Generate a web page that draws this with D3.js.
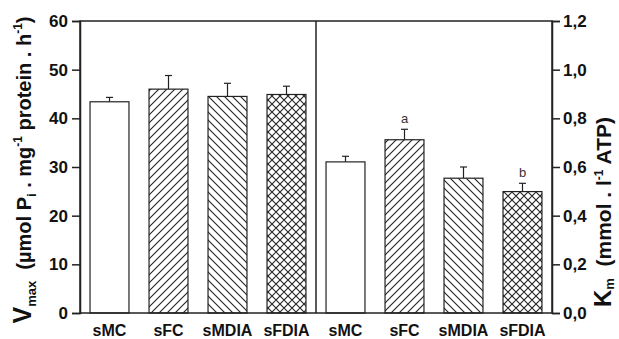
<!DOCTYPE html>
<html><head><meta charset="utf-8">
<script src="https://cdn.jsdelivr.net/npm/d3@7"></script>
<style>body{margin:0;background:#fff}svg{display:block}text{font-family:"Liberation Sans",Arial,sans-serif;white-space:pre}</style>
</head><body><svg id="c" width="619" height="339"></svg>
<script>
const categories = ["sMC","sFC","sMDIA","sFDIA"];
const patterns = ["none","fwd","back","cross"];
const vmaxValues = [43.4, 46.0, 44.5, 44.9];
const vmaxErrors = [44.3, 48.8, 47.2, 46.6];
const kmValues = [0.621, 0.712, 0.554, 0.499];
const kmErrors = [0.644, 0.755, 0.600, 0.533];
const kmLetters = ["", "a", "", "b"];
const leftTicks = [0,10,20,30,40,50,60];
const rightTicks = [0,0.2,0.4,0.6,0.8,1.0,1.2];

const svg = d3.select("#c");
const L = 80, R = 552, T = 21, B = 313, MID = 316;
const ink = "#222";

const defs = svg.append("defs");
function pat(id, draw, size){
  const p = defs.append("pattern").attr("id", id).attr("patternUnits","userSpaceOnUse")
    .attr("width", size).attr("height", size);
  p.append("rect").attr("width",size).attr("height",size).attr("fill","#fff");
  draw(p, size);
}
const fwdD = s => `M0,${s} L${s},0 M${-s/2},${s/2} L${s/2},${-s/2} M${s/2},${s*1.5} L${s*1.5},${s/2}`;
const backD = s => `M0,0 L${s},${s} M${-s/2},${s/2} L${s/2},${s*1.5} M${s/2},${-s/2} L${s*1.5},${s/2}`;
pat("fwd", (p,s)=>{ p.append("path").attr("d",fwdD(s)).attr("stroke",ink).attr("stroke-width",1.1); }, 8);
pat("back", (p,s)=>{ p.append("path").attr("d",backD(s)).attr("stroke",ink).attr("stroke-width",1.1); }, 8);
pat("cross", (p,s)=>{ p.append("path").attr("d",fwdD(s)+" "+backD(s)).attr("stroke",ink).attr("stroke-width",1.1); }, 8);

const xL = d3.scaleBand().domain(categories).range([L, MID]).paddingInner(0.34).paddingOuter(0.17);
const xR = d3.scaleBand().domain(categories).range([MID, R]).paddingInner(0.34).paddingOuter(0.17);
const yL = d3.scaleLinear().domain([0,60]).range([B,T]);
const yR = d3.scaleLinear().domain([0,1.2]).range([B,T]);

function drawGroup(x, y, vals, errs){
  const g = svg.append("g");
  categories.forEach((c,i)=>{
    const bx = x(c), bw = x.bandwidth(), cx = bx + bw/2;
    g.append("line").attr("x1",cx).attr("x2",cx).attr("y1",y(vals[i])).attr("y2",y(errs[i]))
      .attr("stroke",ink).attr("stroke-width",1.2);
    g.append("line").attr("x1",cx-3.5).attr("x2",cx+3.5).attr("y1",y(errs[i])).attr("y2",y(errs[i]))
      .attr("stroke",ink).attr("stroke-width",1.2);
    g.append("rect").attr("x",bx).attr("y",y(vals[i])).attr("width",bw).attr("height",B - y(vals[i]))
      .attr("fill", patterns[i]==="none" ? "#fff" : `url(#${patterns[i]})`)
      .attr("stroke",ink).attr("stroke-width",1.2);
  });
}
drawGroup(xL, yL, vmaxValues, vmaxErrors);
drawGroup(xR, yR, kmValues, kmErrors);

categories.forEach((c,i)=>{
  if(kmLetters[i]) svg.append("text").attr("x", xR(c)+xR.bandwidth()/2).attr("y", yR(kmErrors[i]) - 6)
    .attr("text-anchor","middle").attr("font-size",13).attr("fill","#333").text(kmLetters[i]);
});

// frame
svg.append("rect").attr("x",L).attr("y",T).attr("width",R-L).attr("height",B-T)
  .attr("fill","none").attr("stroke",ink).attr("stroke-width",1.5);
svg.append("line").attr("x1",MID).attr("x2",MID).attr("y1",T).attr("y2",B).attr("stroke",ink).attr("stroke-width",1.5);

// axes
const axL = svg.append("g").attr("transform",`translate(${L},0)`)
  .call(d3.axisLeft(yL).tickValues(leftTicks).tickSize(8).tickPadding(4).tickFormat(d3.format("d")));
const axR = svg.append("g").attr("transform",`translate(${R},0)`)
  .call(d3.axisRight(yR).tickValues(rightTicks).tickSize(8).tickPadding(3).tickFormat(d=>d.toFixed(1).replace(".",",")));
[axL, axR].forEach(a=>{
  a.select(".domain").attr("stroke",ink).attr("stroke-width",1.5);
  a.selectAll(".tick line").attr("stroke",ink).attr("stroke-width",1.5);
  a.selectAll(".tick text").attr("font-size",17).attr("font-weight","bold").attr("fill","#111")
    .style("font-family","'Liberation Sans',Arial,sans-serif");
});

// category labels
[xL, xR].forEach(x=>{
  categories.forEach(c=>{
    svg.append("text").attr("x", x(c)+x.bandwidth()/2).attr("y", 336).attr("text-anchor","middle")
      .attr("font-size",16).attr("font-weight","bold").attr("fill","#111").text(c);
  });
});

// left axis title
const lt = svg.append("text").attr("transform","translate(31,170) rotate(-90)")
  .attr("text-anchor","middle").attr("font-weight","bold").attr("font-size",20).attr("fill","#111");
lt.append("tspan").attr("font-size",25).text("V");
lt.append("tspan").attr("font-size",13).attr("dy",5).text("max");
lt.append("tspan").attr("dy",-5).text("  (µmol P");
lt.append("tspan").attr("font-size",13).attr("dy",5).text("i");
lt.append("tspan").attr("dy",-5).text(" . mg");
lt.append("tspan").attr("font-size",12).attr("dy",-9).text("-1");
lt.append("tspan").attr("dy",9).text(" protein . h");
lt.append("tspan").attr("font-size",12).attr("dy",-9).text("-1");
lt.append("tspan").attr("dy",9).text(")");

// right axis title
const rt = svg.append("text").attr("transform","translate(611,212) rotate(-90)")
  .attr("text-anchor","middle").attr("font-weight","bold").attr("font-size",21).attr("fill","#111");
rt.append("tspan").attr("font-size",24).text("K");
rt.append("tspan").attr("font-size",13).attr("dy",3).text("m");
rt.append("tspan").attr("dy",-3).text("  (mmol . l");
rt.append("tspan").attr("font-size",12).attr("dy",-8).text("-1");
rt.append("tspan").attr("dy",8).text(" ATP)");
</script></body></html>
